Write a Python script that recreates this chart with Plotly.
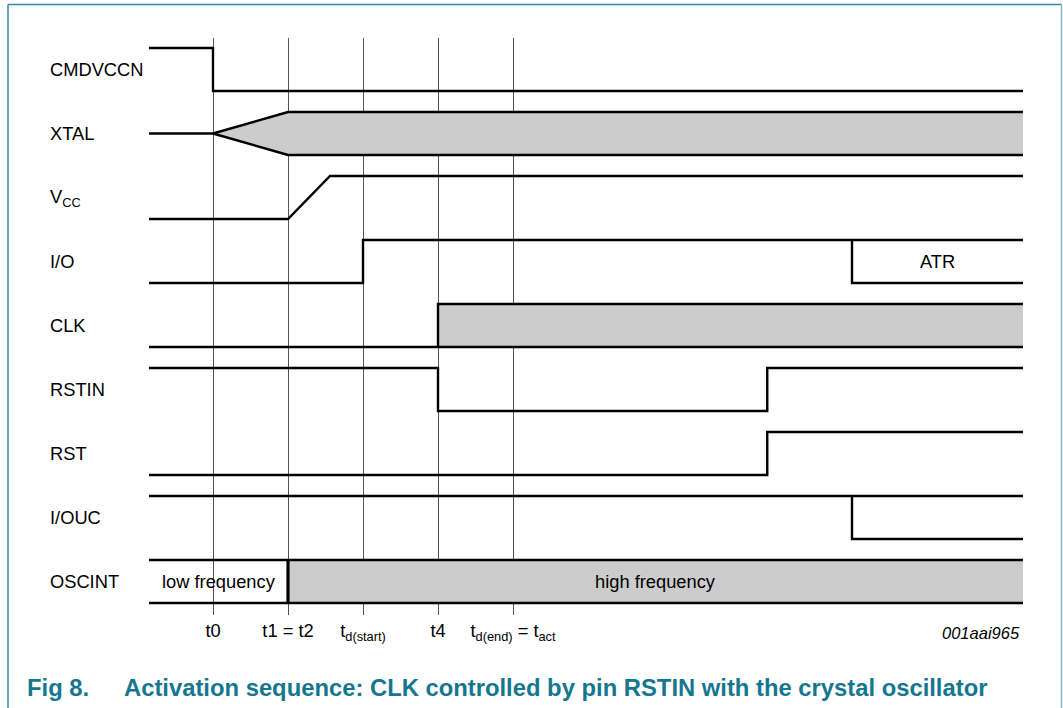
import plotly.graph_objects as go

# ---------------- data ----------------
signal_names = ["CMDVCCN", "XTAL", "V<sub>CC</sub>", "I/O", "CLK",
                "RSTIN", "RST", "I/OUC", "OSCINT"]
marker_times = [0, 1, 2, 3, 4]
marker_labels = ["t0", "t1 = t2", "t<sub>d(start)</sub>", "t4",
                 "t<sub>d(end)</sub> = t<sub>act</sub>"]
T_BEGIN = -0.853
T_END = 10.8
vcc_ramp_end = 1.56
rstin_release = 7.39
atr_time = 8.52

cmdvccn_t = [T_BEGIN, 0, 0, T_END]
cmdvccn_v = [1, 1, 0, 0]
xtal_idle_t = [T_BEGIN, 0]
xtal_idle_v = [0.5, 0.5]
xtal_env_t = [0, 1, T_END, T_END, 1, 0]
xtal_env_v = [0.5, 1, 1, 0, 0, 0.5]
vcc_t = [T_BEGIN, 1, vcc_ramp_end, T_END]
vcc_v = [0, 0, 1, 1]
io_t = [T_BEGIN, 2, 2, T_END]
io_v = [0, 0, 1, 1]
io_atr_t = [atr_time, atr_time, T_END]
io_atr_v = [1, 0, 0]
clk_low_t = [T_BEGIN, T_END]
clk_low_v = [0, 0]
clk_run_t = [3, 3, T_END]
clk_run_v = [0, 1, 1]
clk_fill_t = [3, T_END, T_END, 3]
clk_fill_v = [1, 1, 0, 0]
rstin_t = [T_BEGIN, 3, 3, rstin_release, rstin_release, T_END]
rstin_v = [1, 1, 0, 0, 1, 1]
rst_t = [T_BEGIN, rstin_release, rstin_release, T_END]
rst_v = [0, 0, 1, 1]
iouc_t = [T_BEGIN, T_END]
iouc_v = [1, 1]
iouc_drop_t = [atr_time, atr_time, T_END]
iouc_drop_v = [1, 0, 0]
osc_top_t = [T_BEGIN, T_END]
osc_top_v = [1, 1]
osc_bot_t = [T_BEGIN, T_END]
osc_bot_v = [0, 0]
osc_switch_t = [1, 1]
osc_switch_v = [0, 1]
osc_fill_t = [1, T_END, T_END, 1]
osc_fill_v = [1, 1, 0, 0]
osc_text = ["low frequency", "high frequency"]

# ---------------- styling ----------------
LEVEL_SPAN = 43 / 64
FONT = "Liberation Sans, Arial, sans-serif"
LINE_W = 2.4
GRAY = "#cccccc"
TEAL = "#15778f"
LBL = 18.3


def ys(row, levels):
    return [-row + LEVEL_SPAN * v for v in levels]


fig = go.Figure()


def add_fill(row, t, v):
    fig.add_trace(go.Scatter(x=t, y=ys(row, v), mode="lines", fill="toself",
                             fillcolor=GRAY, line=dict(width=0),
                             hoverinfo="skip", showlegend=False))


def add_line(row, t, v, w=LINE_W):
    fig.add_trace(go.Scatter(x=t, y=ys(row, v), mode="lines",
                             line=dict(color="black", width=w),
                             hoverinfo="skip", showlegend=False))


# fills
add_fill(1, xtal_env_t, xtal_env_v)
add_fill(4, clk_fill_t, clk_fill_v)
add_fill(8, osc_fill_t, osc_fill_v)

# lines
add_line(0, cmdvccn_t, cmdvccn_v)
add_line(1, xtal_idle_t, xtal_idle_v)
add_line(1, xtal_env_t[:3], xtal_env_v[:3])
add_line(1, xtal_env_t[3:], xtal_env_v[3:])
add_line(2, vcc_t, vcc_v)
add_line(3, io_t, io_v)
add_line(3, io_atr_t, io_atr_v)
add_line(4, clk_low_t, clk_low_v)
add_line(4, clk_run_t, clk_run_v)
add_line(5, rstin_t, rstin_v)
add_line(6, rst_t, rst_v)
add_line(7, iouc_t, iouc_v)
add_line(7, iouc_drop_t, iouc_drop_v)
add_line(8, osc_top_t, osc_top_v)
add_line(8, osc_bot_t, osc_bot_v)
add_line(8, osc_switch_t, osc_switch_v, w=3.2)

annotations = []
for i, name in enumerate(signal_names):
    annotations.append(dict(x=48 / 1063, xref="paper", xanchor="left",
                            y=-i + LEVEL_SPAN / 2, yref="y", yanchor="middle",
                            text=name, showarrow=False,
                            font=dict(family=FONT, size=LBL, color="black")))
annotations.append(dict(x=(atr_time + T_END) / 2, y=-3 + LEVEL_SPAN / 2,
                        xref="x", yref="y", text="ATR", showarrow=False,
                        font=dict(family=FONT, size=LBL, color="black")))
annotations.append(dict(x=(T_BEGIN + 1) / 2, y=-8 + LEVEL_SPAN / 2,
                        xref="x", yref="y", text=osc_text[0], showarrow=False,
                        font=dict(family=FONT, size=LBL, color="black")))
annotations.append(dict(x=(1 + T_END) / 2, y=-8 + LEVEL_SPAN / 2,
                        xref="x", yref="y", text=osc_text[1], showarrow=False,
                        font=dict(family=FONT, size=LBL, color="black")))

PH = 577.0


def py(pix):
    return 1 - (pix - 38) / PH


annotations.append(dict(x=1022 / 1063, xref="paper", xanchor="right",
                        y=py(633), yref="paper", yanchor="middle",
                        text="<i>001aai965</i>", showarrow=False,
                        font=dict(family=FONT, size=16.5, color="black")))
annotations.append(dict(x=25 / 1063, xref="paper", xanchor="left",
                        y=py(687), yref="paper", yanchor="middle",
                        text="<b>Fig 8.</b>", showarrow=False,
                        font=dict(family=FONT, size=23.8, color=TEAL)))
annotations.append(dict(x=122 / 1063, xref="paper", xanchor="left",
                        y=py(687), yref="paper", yanchor="middle",
                        text="<b>Activation sequence: CLK controlled by pin RSTIN with the crystal oscillator</b>",
                        showarrow=False,
                        font=dict(family=FONT, size=23.8, color=TEAL)))

shapes = [
    dict(type="line", xref="paper", yref="paper", x0=8 / 1063, x1=8 / 1063,
         y0=py(4.5), y1=py(712), line=dict(color="#2f8aa0", width=1.5)),
    dict(type="line", xref="paper", yref="paper", x0=8 / 1063, x1=1061.5 / 1063,
         y0=py(4.5), y1=py(4.5), line=dict(color="#2f8aa0", width=1.5)),
    dict(type="line", xref="paper", yref="paper", x0=1061.5 / 1063, x1=1061.5 / 1063,
         y0=py(4.5), y1=py(712), line=dict(color="#7cbcc8", width=1.5)),
]

fig.update_layout(
    width=1063, height=708,
    margin=dict(l=0, r=0, t=38, b=93),
    paper_bgcolor="white", plot_bgcolor="white",
    showlegend=False,
    annotations=annotations,
    shapes=shapes,
    xaxis=dict(range=[-213 / 75, 850 / 75], tickvals=marker_times,
               ticktext=marker_labels, showgrid=True, gridcolor="#555555",
               gridwidth=1, zeroline=False, showline=False, ticks="",
               ticklabelstandoff=3,
               tickfont=dict(family=FONT, size=LBL, color="black"),
               fixedrange=True),
    yaxis=dict(range=[(91 - 615) / 64, (91 - 38) / 64], visible=False,
               showgrid=False, zeroline=False, fixedrange=True),
)

fig.write_html(
    "out.html",
    config={"displayModeBar": False},
    post_script="document.body.style.margin='0';document.body.style.overflow='hidden';",
)
